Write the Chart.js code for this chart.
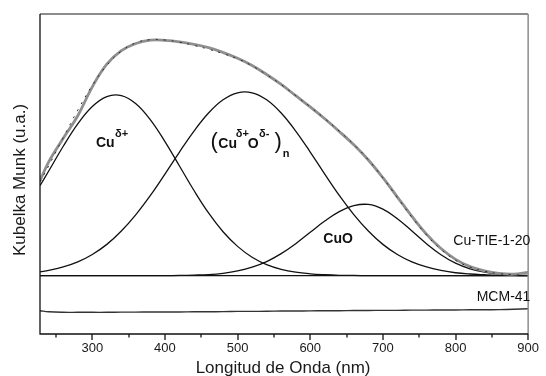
<!DOCTYPE html>
<html><head><meta charset="utf-8">
<script src="https://cdn.jsdelivr.net/npm/chart.js@4/dist/chart.umd.min.js"></script>
<style>html,body{margin:0;padding:0;background:#fff}#wrap{width:546px;height:376px;position:relative}</style>
</head><body><div id="wrap"><canvas id="c" width="546" height="376"></canvas></div>
<script>
// Wavelength grid (nm)
const wavelengths = [228,240,260,280,300,320,340,360,380,400,420,440,460,480,500,520,540,560,580,600,620,640,660,680,700,720,740,760,780,800,820,840,860,880,900];
// Cu-TIE-1-20 measured spectrum (gray)
const cuTIE = [52.5,63,76,88.5,104.5,117,124.5,128.5,130.3,130.2,129.4,128.0,126.2,123.5,120.3,116.3,111.3,105.8,99.6,93.4,86.8,79.8,72.4,64.0,54.2,43.5,32.8,23.0,15.0,9.0,5.0,2.6,1.2,0.8,1.8];
// Fitted sum (dashed)
const fitSum = [51.9,60.8,76.4,91.6,105.3,116.4,124.3,128.9,130.6,130.4,129.2,127.4,125.3,122.9,120.0,116.1,111.2,105.7,99.6,93.4,86.9,80.0,72.6,64.1,54.1,43.2,32.3,22.5,14.5,8.5,4.7,2.4,1.1,0.5,0.1];
// Deconvoluted bands
const bandCu = [49.8,57.9,71.6,84.0,93.6,99.1,99.6,95.1,86.2,74.2,60.7,47.1,34.7,24.3,16.2,10.2,6.1,3.5,1.9,1.0,0.5,0.2,0.1,0,0,0,0,0,0,0,0,0,0,0,0];
const bandCuO_n = [2.1,2.9,4.8,7.6,11.7,17.3,24.7,33.8,44.4,56.2,68.4,80.0,90.0,97.3,101.2,101.2,97.3,90.0,80.0,68.4,56.2,44.4,33.8,24.7,17.3,11.7,7.6,4.8,2.9,1.6,0.9,0.5,0.2,0.1,0];
const bandCuO = [0,0,0,0,0,0,0,0,0,0,0.1,0.3,0.6,1.3,2.6,4.7,7.8,12.2,17.7,24.0,30.2,35.4,38.7,39.4,36.8,31.5,24.7,17.7,11.6,6.9,3.8,1.9,0.9,0.4,0.1];
// Baseline of the Cu-TIE-1-20 spectrum
const baseX = [228,900];
const baseY = [0,0];
// MCM-41 spectrum
const mcm41 = [-19.4,-20.0,-20.3,-20.3,-20.3,-20.3,-20.2,-20.2,-20.1,-20.1,-20.1,-20.0,-20.0,-19.9,-19.8,-19.8,-19.7,-19.6,-19.6,-19.5,-19.4,-19.4,-19.3,-19.3,-19.2,-19.2,-19.1,-19.1,-19.0,-19.0,-18.9,-18.9,-18.8,-18.6,-18.3];
// Axis ticks
const xMajorTicks = [300,400,500,600,700,800,900];
const xMinorTicks = [250,350,450,550,650,750,850];

const FONT = "'Liberation Sans', Arial, sans-serif";
const pts = (xs, ys) => xs.map((x, i) => ({x: x, y: ys[i]}));

const deco = {
  id: 'deco',
  afterDraw(chart) {
    const ctx = chart.ctx, a = chart.chartArea, xs = chart.scales.x;
    ctx.save();
    // frame
    ctx.strokeStyle = '#8c8c8c'; ctx.lineWidth = 2;
    ctx.beginPath(); ctx.moveTo(a.left, a.top); ctx.lineTo(a.right, a.top); ctx.stroke();
    ctx.lineWidth = 1.5;
    ctx.beginPath(); ctx.moveTo(a.right, a.top); ctx.lineTo(a.right, a.bottom); ctx.stroke();
    ctx.strokeStyle = '#111'; ctx.lineWidth = 1.3;
    ctx.beginPath(); ctx.moveTo(a.left, a.top); ctx.lineTo(a.left, a.bottom); ctx.lineTo(a.right, a.bottom); ctx.stroke();
    // ticks
    ctx.lineWidth = 1.3;
    xMajorTicks.forEach(v => { const p = Math.round(xs.getPixelForValue(v)); ctx.beginPath(); ctx.moveTo(p, a.bottom); ctx.lineTo(p, a.bottom + 6); ctx.stroke(); });
    xMinorTicks.forEach(v => { const p = Math.round(xs.getPixelForValue(v)); ctx.beginPath(); ctx.moveTo(p, a.bottom); ctx.lineTo(p, a.bottom + 3.5); ctx.stroke(); });
    // axis titles
    ctx.fillStyle = '#1a1a1a';
    ctx.font = '17px ' + FONT; ctx.textAlign = 'center'; ctx.textBaseline = 'alphabetic';
    ctx.fillText('Longitud de Onda (nm)', (a.left + a.right) / 2 - 1, 373);
    ctx.save(); ctx.translate(25, 180); ctx.rotate(-Math.PI / 2);
    ctx.fillText('Kubelka Munk (u.a.)', 0, 0); ctx.restore();
    // annotations
    ctx.textAlign = 'left'; ctx.fillStyle = '#111';
    const t = (s, x, y, f) => { ctx.font = f; ctx.fillText(s, x, y); };
    t('Cu', 96, 146.7, 'bold 14px ' + FONT);
    t('\u03B4+', 115, 137.2, 'bold 11px ' + FONT);
    t('(', 210.5, 148, '22px ' + FONT);
    t('Cu', 218.3, 148.3, 'bold 14px ' + FONT);
    t('\u03B4+', 235.8, 137.2, 'bold 11px ' + FONT);
    t('O', 247.8, 148.3, 'bold 14px ' + FONT);
    t('\u03B4-', 259, 137.2, 'bold 11px ' + FONT);
    t(')', 274.5, 148, '22px ' + FONT);
    t('n', 282.7, 156.7, 'bold 11px ' + FONT);
    t('CuO', 323.3, 243.3, 'bold 14px ' + FONT);
    t('Cu-TIE-1-20', 453.3, 245, '14px ' + FONT);
    t('MCM-41', 476.7, 300.6, '14px ' + FONT);
    ctx.restore();
  }
};

const common = {pointRadius: 0, pointHoverRadius: 0, fill: false, tension: 0.4};
new Chart(document.getElementById('c'), {
  type: 'line',
  data: {
    datasets: [
      Object.assign({label: 'ajuste', data: pts(wavelengths, fitSum), borderColor: '#2a2a2a', borderWidth: 1, borderDash: [2, 6]}, common),
      Object.assign({label: 'Cu-TIE-1-20', data: pts(wavelengths, cuTIE), borderColor: '#8f8f8f', borderWidth: 2.8}, common),
      Object.assign({label: 'Cu', data: pts(wavelengths, bandCu), borderColor: '#111', borderWidth: 1.3}, common),
      Object.assign({label: '(CuO)n', data: pts(wavelengths, bandCuO_n), borderColor: '#111', borderWidth: 1.3}, common),
      Object.assign({label: 'CuO', data: pts(wavelengths, bandCuO), borderColor: '#111', borderWidth: 1.3}, common),
      Object.assign({label: 'base', data: pts(baseX, baseY), borderColor: '#111', borderWidth: 1.2}, common),
      Object.assign({label: 'MCM-41', data: pts(wavelengths, mcm41), borderColor: '#333', borderWidth: 1.4}, common)
    ]
  },
  options: {
    responsive: false, animation: false, devicePixelRatio: 1,
    layout: {padding: {top: 14, right: 12, left: 0, bottom: 0}},
    plugins: {legend: {display: false}, tooltip: {enabled: false}},
    scales: {
      x: {
        type: 'linear', min: 228, max: 900,
        grid: {display: false, drawTicks: false}, border: {display: false},
        afterBuildTicks: s => { s.ticks = xMajorTicks.map(v => ({value: v})); },
        afterFit: s => { s.height = 42; },
        ticks: {padding: 7, maxRotation: 0, autoSkip: false, color: '#1a1a1a', font: {family: FONT, size: 13}, callback: v => String(v)}
      },
      y: {
        type: 'linear', min: -32.3, max: 144.8,
        grid: {display: false, drawTicks: false}, border: {display: false},
        ticks: {display: false},
        afterFit: s => { s.width = 40; }
      }
    }
  },
  plugins: [deco]
});
</script></body></html>
